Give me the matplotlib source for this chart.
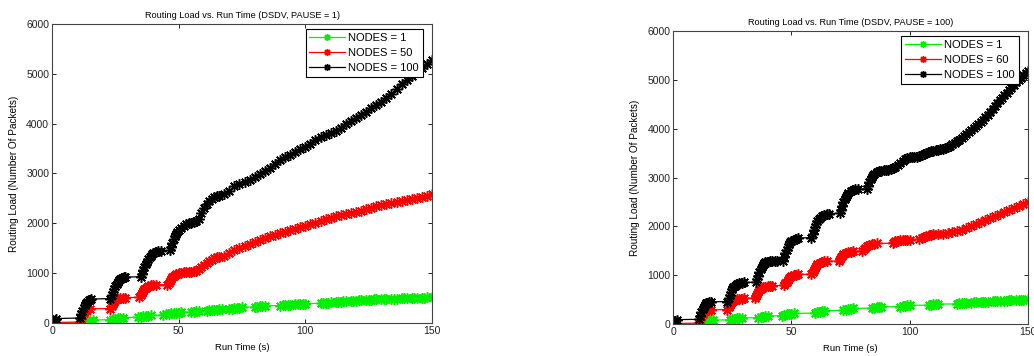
import matplotlib
matplotlib.use("Agg")
import matplotlib.pyplot as plt

plt.rcParams['font.family'] = ['Liberation Sans', 'DejaVu Sans']

# ---------------- PAUSE = 1 ----------------
p1_n1_t = [0, 11, 12, 12.5, 13, 14, 15, 16, 23, 24, 25, 26, 27, 28, 34, 35, 36, 37, 38, 39,
           44, 45, 46, 47, 48, 49, 50, 51, 55, 56, 57, 58, 61, 62, 63, 64, 65, 66, 67,
           70, 71, 72, 73, 74, 75, 80, 81, 82, 83, 84, 90, 91, 92, 93, 94, 96, 97, 98, 99, 100,
           106, 107, 108, 109, 110, 112, 113, 114, 115, 116, 118, 119, 120, 121, 122,
           124, 125, 126, 127, 128, 130, 131, 132, 134, 135, 136, 138, 139, 140, 142, 143,
           144, 146, 147, 148, 150]
p1_n1_v = [0, 0, 20, 35, 45, 50, 55, 60, 65, 75, 90, 100, 105, 110, 115, 125, 135, 140, 150, 155,
           160, 175, 185, 195, 200, 205, 210, 215, 220, 230, 235, 240, 245, 255, 260, 265, 270, 275, 280,
           285, 290, 300, 305, 310, 315, 320, 330, 335, 340, 345, 350, 355, 360, 365, 370, 372, 375, 380, 385, 390,
           395, 400, 405, 410, 415, 420, 425, 430, 435, 440, 440, 445, 450, 455, 460,
           462, 465, 470, 472, 475, 478, 480, 482, 485, 488, 490, 492, 495, 497, 500, 502,
           505, 507, 510, 512, 515]

p1_n50_t = [0, 1, 11, 11.5, 12, 12.5, 13, 13.5, 14, 15, 23, 23.5, 24, 24.5, 25, 25.5, 26, 27, 28, 29,
            34.5, 35, 35.5, 36, 36.5, 37, 37.5, 38, 39, 40, 41, 45.5, 46, 46.5, 47, 47.5, 48, 48.5, 49, 50,
            51, 52, 53, 54, 55, 56, 57, 58, 59, 60, 61, 62, 63, 64, 65, 66, 68, 70, 72, 74, 76, 78, 80,
            82, 84, 86, 88, 90, 92, 94, 96, 98, 100, 102, 104, 106, 108, 110, 112, 114, 116, 118, 120,
            122, 124, 126, 128, 130, 132, 134, 136, 138, 140, 142, 144, 146, 148, 150]
p1_n50_v = [0, 10, 20, 90, 160, 210, 250, 270, 280, 285, 290, 340, 390, 430, 460, 480, 490, 500, 505, 510,
            515, 560, 600, 640, 680, 710, 730, 745, 755, 760, 765, 770, 800, 840, 880, 920, 950, 970, 985, 1000,
            1010, 1020, 1020, 1025, 1030, 1035, 1050, 1090, 1130, 1170, 1200, 1240, 1270, 1300, 1320, 1330, 1350,
            1400, 1460, 1510, 1550, 1580, 1620, 1660, 1710, 1740, 1770, 1800, 1830, 1860, 1890, 1920, 1950,
            1980, 2010, 2050, 2080, 2110, 2140, 2160, 2180, 2200, 2220, 2250, 2280, 2310, 2340, 2370, 2390,
            2410, 2430, 2440, 2460, 2480, 2500, 2520, 2550, 2580]

p1_n100_t = [0, 0.5, 1, 1.5, 11, 11.5, 12, 12.5, 13, 13.5, 14, 14.5, 15, 15.5,
             23, 23.5, 24, 24.5, 25, 25.5, 26, 26.5, 27, 27.5, 28, 28.5, 29,
             35, 35.5, 36, 36.5, 37, 37.5, 38, 38.5, 39, 39.5, 40, 41, 42, 43,
             46.5, 47, 47.5, 48, 48.5, 49, 49.5, 50, 51, 52, 53, 54, 55, 56, 57, 58, 59, 60, 61, 62,
             63, 64, 65, 66, 68, 70, 72, 74, 76, 78, 80, 82, 84, 86, 88, 90, 92, 94, 96, 98, 100,
             102, 104, 106, 108, 110, 112, 114, 116, 118, 120, 122, 124, 126, 128, 130, 132, 134,
             136, 138, 140, 142, 144, 146, 148, 150]
p1_n100_v = [0, 40, 70, 90, 100, 180, 250, 310, 360, 400, 430, 455, 470, 480,
             490, 560, 630, 690, 740, 790, 830, 860, 880, 900, 910, 915, 920,
             930, 990, 1060, 1120, 1180, 1230, 1280, 1320, 1350, 1380, 1400, 1420, 1440, 1450,
             1460, 1520, 1600, 1680, 1740, 1790, 1830, 1860, 1910, 1950, 1980, 2000, 2010, 2020, 2040,
             2090, 2200, 2300, 2380, 2440, 2490, 2520, 2540, 2550, 2580, 2650, 2740, 2790, 2830, 2870,
             2920, 2980, 3060, 3120, 3190, 3270, 3340, 3380, 3430, 3490, 3540, 3600, 3680, 3730, 3770,
             3810, 3860, 3920, 3990, 4060, 4120, 4180, 4240, 4310, 4380, 4440, 4520, 4600, 4700, 4790,
             4870, 4950, 5030, 5110, 5190, 5270]

# ---------------- PAUSE = 100 ----------------
p100_n1_t = [0, 11, 12, 13, 14, 15, 16, 17, 24, 25, 26, 27, 28, 29, 36, 37, 38, 39, 40,
             46, 47, 48, 49, 50, 51, 60, 61, 62, 63, 64, 72, 73, 74, 75, 76, 84, 85, 86, 87, 88,
             96, 97, 98, 99, 100, 108, 109, 110, 111, 112, 120, 121, 122, 123, 124, 126, 127, 128,
             130, 131, 132, 133, 135, 136, 137, 138, 140, 141, 142, 143, 145, 146, 147, 148, 150]
p100_n1_v = [0, 0, 20, 45, 60, 70, 75, 80, 85, 95, 105, 115, 120, 125, 130, 140, 150, 160, 165,
             170, 185, 195, 205, 210, 215, 225, 240, 255, 265, 270, 280, 295, 305, 315, 320,
             325, 335, 345, 350, 352, 355, 365, 375, 380, 382, 385, 395, 400, 405, 408,
             410, 420, 428, 432, 435, 438, 442, 445, 448, 452, 455, 458, 462, 466, 470, 473,
             476, 480, 484, 487, 490, 494, 497, 500, 505]

p100_n60_t = [0, 1, 11, 11.5, 12, 12.5, 13, 13.5, 14, 15, 16, 23, 23.5, 24, 24.5, 25, 25.5, 26, 27,
              28, 29, 30, 34.5, 35, 35.5, 36, 36.5, 37, 37.5, 38, 39, 40, 41, 42,
              47, 47.5, 48, 48.5, 49, 49.5, 50, 51, 52, 53, 58.5, 59, 59.5, 60, 60.5, 61, 62, 63, 64, 65,
              70, 70.5, 71, 71.5, 72, 73, 74, 75, 76, 80, 80.5, 81, 82, 83, 84, 85, 86,
              93, 93.5, 94, 95, 96, 97, 98, 99, 100, 104, 105, 106, 107, 108, 109, 110, 112, 114,
              116, 118, 120, 122, 124, 126, 128, 130, 132, 134, 136, 138, 140, 142, 144, 146, 148, 150]
p100_n60_v = [0, 10, 20, 90, 160, 210, 250, 270, 280, 285, 290, 295, 340, 380, 420, 450, 470, 490, 505,
              515, 520, 525, 530, 570, 610, 650, 690, 720, 740, 755, 765, 775, 780, 785,
              790, 830, 870, 910, 940, 965, 985, 1000, 1010, 1015, 1020, 1070, 1110, 1150, 1190, 1220,
              1250, 1270, 1280, 1285, 1290, 1330, 1370, 1400, 1430, 1460, 1475, 1480, 1485,
              1490, 1530, 1560, 1590, 1620, 1640, 1645, 1650, 1655, 1670, 1690, 1700, 1710, 1715,
              1720, 1725, 1730, 1735, 1760, 1790, 1810, 1820, 1830, 1835, 1840, 1850, 1865, 1880,
              1900, 1930, 1960, 2010, 2050, 2090, 2130, 2170, 2210, 2250, 2290, 2330, 2370, 2410,
              2450, 2490]

p100_n100_t = [0, 0.5, 1, 1.5, 11, 11.5, 12, 12.5, 13, 13.5, 14, 14.5, 15, 16,
               23, 23.5, 24, 24.5, 25, 25.5, 26, 26.5, 27, 28, 29, 30,
               35, 35.5, 36, 36.5, 37, 37.5, 38, 38.5, 39, 40, 41, 42, 43, 44,
               46.5, 47, 47.5, 48, 48.5, 49, 49.5, 50, 51, 52, 53,
               58.5, 59, 59.5, 60, 60.5, 61, 61.5, 62, 63, 64, 65, 66,
               70.5, 71, 71.5, 72, 72.5, 73, 73.5, 74, 75, 76, 77, 78,
               82, 82.5, 83, 83.5, 84, 84.5, 85, 86, 87, 88, 89, 90, 91, 92, 93, 94, 95, 96, 97, 98,
               99, 100, 101, 102, 103, 104, 105, 106, 107, 108, 109, 110, 111, 112, 113, 114, 115,
               116, 117, 118, 119, 120, 121, 122, 123, 124, 125, 126, 127, 128, 129, 130, 131, 132,
               133, 134, 135, 136, 137, 138, 139, 140, 141, 142, 143, 144, 145, 146, 147, 148, 149, 150]
p100_n100_v = [0, 40, 70, 90, 95, 170, 240, 300, 350, 390, 420, 440, 450, 455,
               460, 530, 600, 660, 710, 750, 780, 800, 820, 835, 845, 850,
               855, 920, 990, 1060, 1120, 1170, 1210, 1240, 1260, 1275, 1280, 1285, 1290, 1290,
               1300, 1370, 1450, 1520, 1580, 1630, 1670, 1700, 1730, 1750, 1760,
               1770, 1840, 1920, 1990, 2050, 2100, 2140, 2170, 2210, 2240, 2250, 2260,
               2270, 2340, 2420, 2490, 2550, 2600, 2650, 2690, 2730, 2750, 2760, 2760,
               2770, 2830, 2900, 2960, 3010, 3050, 3080, 3110, 3130, 3140, 3150, 3150, 3160, 3170,
               3190, 3220, 3260, 3300, 3340, 3380, 3400, 3410, 3410, 3420, 3430, 3450, 3470, 3490,
               3510, 3530, 3540, 3550, 3560, 3570, 3580, 3590, 3600, 3620, 3650, 3680, 3710, 3740,
               3770, 3810, 3850, 3890, 3930, 3970, 4010, 4050, 4090, 4140, 4180, 4230, 4290, 4350,
               4410, 4470, 4520, 4580, 4630, 4680, 4740, 4790, 4840, 4900, 4950, 4990, 5040, 5090,
               5140, 5180]

panels = [
    {
        "title": "Routing Load vs. Run Time (DSDV, PAUSE = 1)",
        "rect": [0.0503, 0.0927, 0.3675, 0.8399],
        "series": [(p1_n1_t, p1_n1_v, "#00f000", "NODES = 1"),
                   (p1_n50_t, p1_n50_v, "#ff0000", "NODES = 50"),
                   (p1_n100_t, p1_n100_v, "#000000", "NODES = 100")],
        "legend_anchor": (0.976, 0.982),
    },
    {
        "title": "Routing Load vs. Run Time (DSDV, PAUSE = 100)",
        "rect": [0.6509, 0.0899, 0.3433, 0.8230],
        "series": [(p100_n1_t, p100_n1_v, "#00f000", "NODES = 1"),
                   (p100_n60_t, p100_n60_v, "#ff0000", "NODES = 60"),
                   (p100_n100_t, p100_n100_v, "#000000", "NODES = 100")],
        "legend_anchor": (0.974, 0.982),
    },
]

x_ticks = [0, 50, 100, 150]
y_ticks = [0, 1000, 2000, 3000, 4000, 5000, 6000]

fig = plt.figure(figsize=(10.34, 3.56), dpi=100)
asterisk = (8, 2, 0)

for p in panels:
    ax = fig.add_axes(p["rect"])
    for t, v, c, lab in p["series"]:
        ax.plot(t, v, color=c, lw=0.9, marker=asterisk, markersize=7.5,
                markeredgewidth=1.1, label=lab)
    ax.set_xlim(0, 150)
    ax.set_ylim(0, 6000)
    ax.set_xticks(x_ticks)
    ax.set_yticks(y_ticks)
    ax.tick_params(direction="in", top=True, right=True, labelsize=7.5,
                   length=3, width=0.7, pad=2, colors="#222222")
    for s in ax.spines.values():
        s.set_linewidth(0.8)
        s.set_color("#444444")
    ax.set_title(p["title"], fontsize=6.6, pad=4)
    ax.set_xlabel("Run Time (s)", fontsize=6.8, labelpad=5)
    ax.set_ylabel("Routing Load (Number Of Packets)", fontsize=7.2, labelpad=5)
    leg = ax.legend(loc="upper right", bbox_to_anchor=p["legend_anchor"], fontsize=8,
                    handlelength=3.2, handletextpad=0.3, borderpad=0.35,
                    labelspacing=0.45, fancybox=False, framealpha=1,
                    borderaxespad=0.0)
    leg.get_frame().set_edgecolor("#000000")
    leg.get_frame().set_linewidth(0.8)
    for h in leg.legend_handles:
        h.set_markersize(5)
        h.set_markeredgewidth(1.0)

fig.savefig("out.png", dpi=100)
